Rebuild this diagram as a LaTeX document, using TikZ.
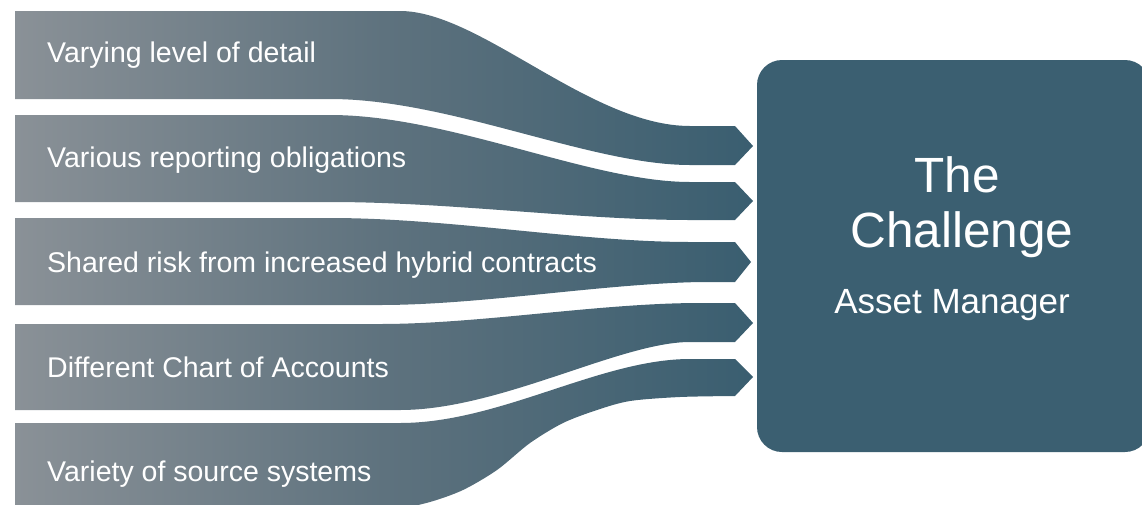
\documentclass[tikz,border=0pt]{standalone}
\usepackage{fontspec}
\setmainfont{Liberation Sans}
\definecolor{bandL}{RGB}{138,145,151}
\definecolor{bandM}{RGB}{94,114,126}
\definecolor{bandR}{RGB}{58,94,112}
\definecolor{boxc}{RGB}{59,95,113}
\tikzset{
  band/.style={left color=bandL, right color=bandR, middle color=bandM, draw=none},
  lbl/.style={anchor=base west, text=white, inner sep=0pt, font=\fontsize{28.5}{32}\selectfont},
  challenge/.style={fill=boxc, draw=none, rounded corners=25pt, minimum width=393pt, minimum height=392pt, inner sep=0pt},
  bigtxt/.style={anchor=base, text=white, inner sep=0pt, font=\fontsize{49.5}{54}\selectfont},
  subtxt/.style={anchor=base, text=white, inner sep=0pt, font=\fontsize{35}{40}\selectfont}
}
\begin{document}
\begin{tikzpicture}[x=1pt,y=-1pt]
\useasboundingbox (0,0) rectangle (1142,504);
\clip (0,0) rectangle (1142,504);
% box
\node[challenge] (box) at (953.5,256) {};
% bands
\shade[band] (15,11) -- (400,11) .. controls (480,11) and (590,126) .. (690,126) -- (735,126) -- (753,146) -- (735,165) -- (690,165) .. controls (590,165) and (450,99) .. (330,99) -- (15,99) -- cycle;
\shade[band] (15,115) -- (330,115) .. controls (450,115) and (590,182) .. (690,182) -- (735,182) -- (753,201) -- (735,220) -- (690,220) .. controls (580,220) and (450,202) .. (330,202) -- (15,202) -- cycle;
\shade[band] (15,218) -- (330,218) .. controls (450,218) and (580,242) .. (690,242) -- (735,242) -- (751,262) -- (735,282) -- (700,282) .. controls (600,284) and (480,305) .. (380,305) -- (15,305) -- cycle;
\shade[band] (15,324) -- (380,324) .. controls (480,324) and (600,303) .. (700,303) -- (735,303) -- (753,323) -- (735,342) -- (690,342) .. controls (620,342) and (500,410) .. (400,410) -- (15,410) -- cycle;
\shade[band] (15,423) -- (400,423) .. controls (500,423) and (600,359) .. (690,359) -- (735,359) -- (753,377) -- (735,396) -- plot[smooth] coordinates {(735,396) (680,397) (630,401) (597,410) (563,423) (530,443) (497,470) (463,490) (430,502) (400,508) (350,511)} -- (15,511) -- cycle;
% labels
\node[lbl] (l1) at (47,62) {Varying level of detail};
\node[lbl] (l2) at (47,167) {Various reporting obligations};
\node[lbl] (l3) at (47,272) {Shared risk from increased hybrid contracts};
\node[lbl] (l4) at (47,377) {Different Chart of Accounts};
\node[lbl] (l5) at (47,481) {Variety of source systems};
% box texts
\node[bigtxt] (t1) at (957,192) {The};
\node[bigtxt] (t2) at (962,247) {Challenge};
\node[subtxt] (t3) at (952,313) {Asset Manager};
\end{tikzpicture}
\end{document}
